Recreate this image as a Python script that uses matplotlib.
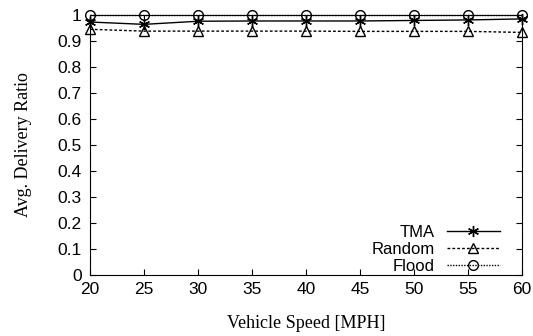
import matplotlib
matplotlib.use('Agg')
from matplotlib import pyplot as plt

# speeds on the x axis
speeds = [20, 25, 30, 35, 40, 45, 50, 55, 60]
# avg delivery ratio for each scheme
tma = [0.973, 0.964, 0.976, 0.977, 0.977, 0.977, 0.979, 0.981, 0.985]
rnd = [0.945, 0.938, 0.938, 0.938, 0.938, 0.937, 0.937, 0.937, 0.933]
flood = [0.999, 0.999, 0.999, 0.999, 0.999, 0.999, 0.999, 0.999, 0.999]

yticks = [0, 0.1, 0.2, 0.3, 0.4, 0.5, 0.6, 0.7, 0.8, 0.9, 1]
ylabels = ['0', '0.1', '0.2', '0.3', '0.4', '0.5', '0.6', '0.7', '0.8', '0.9', '1']

fig = plt.figure(figsize=(5.33, 3.36), dpi=100)
# plot box: x 90..522, y 15..275 px
ax = fig.add_axes([90/533, 1 - 275/336, 432/533, 260/336])

ax.plot(speeds, tma, color='black', lw=1, marker=(6, 2, 0), ms=8, mew=1,
        label='TMA', clip_on=False)
ax.plot(speeds, rnd, color='black', lw=1, ls=(0, (2, 1.5)), marker='^', ms=6.5,
        mfc='none', mew=1, label='Random', clip_on=False)
ax.plot(speeds, flood, color='black', lw=1, ls=(0, (1, 1)), marker='o', ms=7,
        mfc='none', mew=1, label='Flood', clip_on=False)

ax.set_xlim(20, 60)
ax.set_ylim(0, 1)
ax.set_xticks(speeds)
ax.set_yticks(yticks)
ax.set_yticklabels(ylabels)
ax.tick_params(direction='in', top=True, right=True, labelsize=12.5, length=4)
ax.tick_params(axis='x', pad=5)
ax.tick_params(axis='y', pad=6)
for lab in ax.get_xticklabels() + ax.get_yticklabels():
    lab.set_family('Liberation Sans')

ax.set_xlabel('Vehicle Speed [MPH]', family='Liberation Serif', fontsize=13,
              labelpad=13)
ax.set_ylabel('Avg. Delivery Ratio', family='Liberation Serif', fontsize=13,
              labelpad=18)

leg = ax.legend(loc='lower right', bbox_to_anchor=((500 - 90)/432, 0.005),
                markerfirst=False, frameon=False,
                prop={'family': 'Liberation Sans', 'size': 12},
                handlelength=3.2, labelspacing=0.12, borderpad=0,
                borderaxespad=0, handletextpad=0.7)

fig.savefig('out.png', dpi=100)
